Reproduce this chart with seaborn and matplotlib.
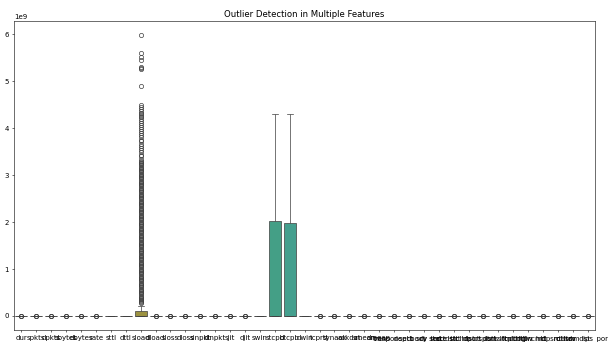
import numpy as np
import pandas as pd
import matplotlib
matplotlib.use("Agg")
import matplotlib.pyplot as plt
import seaborn as sns

# feature columns, in plotting order
features = ["dur", "spkts", "dpkts", "sbytes", "dbytes", "rate", "sttl", "dttl",
            "sload", "dload", "sloss", "dloss", "sinpkt", "dinpkt", "sjit", "djit",
            "swin", "stcpb", "dtcpb", "dwin", "tcprtt", "synack", "ackdat", "smean",
            "dmean", "trans_depth", "response_body_len", "ct_srv_src", "ct_state_ttl",
            "ct_dst_ltm", "ct_src_dport_ltm", "ct_dst_sport_ltm", "ct_dst_src_ltm",
            "is_ftp_login", "ct_ftp_cmd", "ct_flw_http_mthd", "ct_src_ltm",
            "ct_srv_dst", "is_sm_ips_ports"]

# features whose spread is tiny on a 1e9 scale (box + outliers collapse to 0)
flat_features = ["sttl", "dttl", "swin", "dwin"]
flat_values = [0, 62, 254]
flat_counts = [10, 10, 10]
small_values = [0, 1, 2, 3, 5, 40, 900]
small_counts = [10, 8, 6, 4, 3, 2, 1]

# sload (in units of 1e9): box part as a frequency table, outliers one by one
sload_values = [0.0, 0.02, 0.05, 0.08, 0.1, 0.15, 0.22]
sload_counts = [460, 60, 40, 30, 45, 20, 10]
sload_outliers = [5.99, 5.6, 5.52, 5.45, 5.31, 5.28, 5.26, 4.91,
                  4.5, 4.46, 4.41, 4.37, 4.33, 4.3, 4.27, 4.24, 4.2, 4.16,
                  4.12, 4.07, 4.03, 3.98, 3.94, 3.9, 3.85, 3.81, 3.76, 3.72,
                  3.67, 3.62, 3.58, 3.53, 3.49, 3.44, 3.4, 3.35, 3.31, 3.26,
                  3.21, 3.16, 3.11, 3.06, 3.01, 2.96, 2.91, 2.86, 2.81, 2.76,
                  2.71, 2.66, 2.61, 2.56, 2.51, 2.46, 2.41, 2.36, 2.31, 2.26,
                  2.21, 2.16, 2.11, 2.06, 2.01, 1.96, 1.91, 1.86, 1.81, 1.76,
                  1.71, 1.66, 1.61, 1.56, 1.51, 1.46, 1.41, 1.36, 1.31, 1.26,
                  1.21, 1.16, 1.11, 1.06, 1.01, 0.96, 0.91, 0.86, 0.81, 0.76,
                  0.71, 0.66, 0.61, 0.56, 0.51, 0.46, 0.41, 0.36, 0.31]
# the packed lower part of the sload outlier column
sload_dense = [3.285, 3.235, 3.185, 3.135, 3.085, 3.035, 2.985, 2.935, 2.885,
               2.835, 2.785, 2.735, 2.685, 2.635, 2.585, 2.535, 2.485, 2.435,
               2.385, 2.335, 2.285, 2.235, 2.185, 2.135, 2.085, 2.035, 1.985,
               1.935, 1.885, 1.835, 1.785, 1.735, 1.685, 1.635, 1.585, 1.535,
               1.485, 1.435, 1.385, 1.335, 1.285, 1.235, 1.185, 1.135, 1.085,
               1.035, 0.985, 0.935, 0.885, 0.835, 0.785, 0.735, 0.685, 0.635,
               0.585, 0.535, 0.485, 0.435, 0.385, 0.335, 0.29, 0.27]

# stcpb / dtcpb (1e9): half zeros, rest spread up to 2^32
stcpb_values = [0.0, 0.5, 1.0, 1.5, 2.02, 2.5, 3.0, 3.5, 4.0, 4.3]
stcpb_counts = [52, 5, 6, 6, 8, 5, 6, 6, 5, 1]
dtcpb_values = [0.0, 0.5, 1.0, 1.5, 1.99, 2.5, 3.0, 3.5, 4.0, 4.3]
dtcpb_counts = [52, 5, 6, 6, 8, 5, 6, 6, 5, 1]


def expand(values, counts, scale=1.0):
    return list(np.repeat(np.array(values) * scale, counts))


rows = []
for f in features:
    if f == "sload":
        vals = (expand(sload_values, sload_counts, 1e9)
                + [v * 1e9 for v in sload_outliers + sload_dense])
    elif f == "stcpb":
        vals = expand(stcpb_values, stcpb_counts, 1e9)
    elif f == "dtcpb":
        vals = expand(dtcpb_values, dtcpb_counts, 1e9)
    elif f in flat_features:
        vals = expand(flat_values, flat_counts)
    else:
        vals = expand(small_values, small_counts)
    rows += [(f, v) for v in vals]
df = pd.DataFrame(rows, columns=["feature", "value"])

dpi = 50.67
fig = plt.figure(figsize=(608 / dpi, 342 / dpi), dpi=dpi)
ax = sns.boxplot(data=df, x="feature", y="value", hue="feature",
                 palette=sns.color_palette("husl", len(features)), legend=False,
                 fliersize=6)
ax.set(xlabel="", ylabel="")
ax.set_title("Outlier Detection in Multiple Features")
fig.subplots_adjust(left=0.023, right=0.979, top=0.939, bottom=0.035)
fig.savefig("out.png", dpi=dpi)
